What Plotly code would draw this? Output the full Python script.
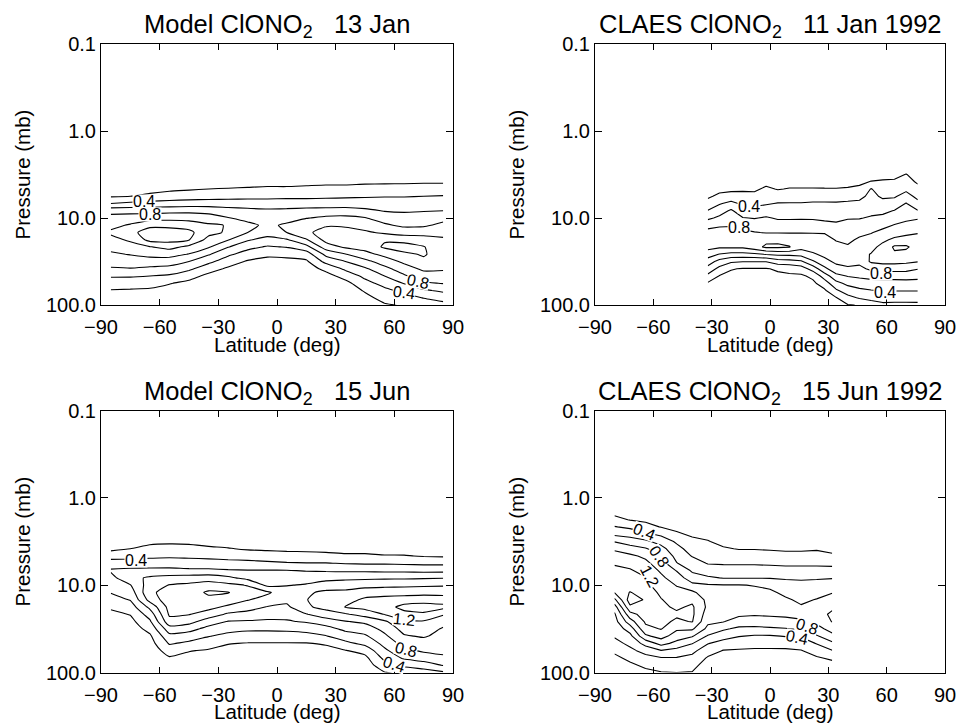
import numpy as np
import plotly.graph_objects as go

FONT = "Liberation Sans, Arial, Helvetica, sans-serif"

# ---------------------------------------------------------------------------
# Grids: latitude (deg) and pressure (mb)
# ---------------------------------------------------------------------------
lat_model = [-85, -75, -65, -55, -45, -35, -25, -15, -5, 5, 15, 25, 35, 45, 55, 65, 75, 85]
lat_claes_jan = [-32, -26, -20, -14, -8, -2, 4, 10, 16, 22, 28, 34, 40, 46, 52, 58, 64, 70, 76]
lat_claes_jun = [-80, -72, -64, -56, -48, -40, -32, -24, -16, -8, 0, 8, 16, 24, 32]

p_model = [2.15, 2.61, 3.16, 3.83, 4.64, 5.62, 6.81, 8.25, 10.0, 12.1, 14.7, 17.8,
           21.5, 26.1, 31.6, 38.3, 46.4, 56.2, 68.1, 82.5, 100.0, 121.0, 147.0]
p_claes_jan = [2.15, 2.61, 3.16, 3.83, 4.64, 5.62, 6.81, 8.25, 10.0, 12.1, 14.7,
               17.8, 21.5, 26.1, 31.6, 38.3, 46.4, 56.2, 68.1, 82.5, 100.0, 121.0]
p_claes_jun = [1.21, 1.47, 1.78, 2.15, 2.61, 3.16, 3.83, 4.64, 5.62, 6.81, 8.25, 10.0,
               12.1, 14.7, 17.8, 21.5, 26.1, 31.6, 38.3, 46.4, 56.2, 68.1, 82.5, 100.0, 121.0]

# ---------------------------------------------------------------------------
# ClONO2 mixing ratio (ppbv); one list per latitude, top (low p) to bottom
# ---------------------------------------------------------------------------
model_jan = [
    [0.02, 0.02, 0.03, 0.06, 0.11, 0.18, 0.40, 0.73, 0.87, 0.95, 1.03, 0.94, 0.86, 0.77, 0.68, 0.58, 0.42, 0.30, 0.19, 0.13, 0.09, 0.06, 0.04],
    [0.02, 0.02, 0.03, 0.06, 0.12, 0.20, 0.44, 0.73, 0.89, 1.02, 1.15, 1.03, 0.92, 0.81, 0.70, 0.59, 0.42, 0.29, 0.18, 0.13, 0.09, 0.06, 0.04],
    [0.02, 0.02, 0.03, 0.07, 0.14, 0.24, 0.47, 0.72, 0.92, 1.16, 1.28, 1.26, 0.99, 0.86, 0.71, 0.56, 0.40, 0.27, 0.17, 0.12, 0.08, 0.05, 0.03],
    [0.02, 0.03, 0.04, 0.08, 0.16, 0.29, 0.48, 0.74, 0.93, 1.15, 1.29, 1.27, 1.06, 0.87, 0.70, 0.53, 0.37, 0.21, 0.14, 0.10, 0.07, 0.04, 0.03],
    [0.02, 0.03, 0.05, 0.10, 0.18, 0.31, 0.49, 0.75, 0.92, 1.12, 1.25, 1.21, 0.95, 0.79, 0.60, 0.44, 0.27, 0.15, 0.10, 0.07, 0.05, 0.03, 0.02],
    [0.02, 0.03, 0.06, 0.12, 0.20, 0.32, 0.50, 0.73, 0.89, 1.03, 1.06, 0.93, 0.82, 0.62, 0.45, 0.28, 0.15, 0.10, 0.07, 0.05, 0.04, 0.03, 0.02],
    [0.02, 0.03, 0.06, 0.12, 0.21, 0.33, 0.50, 0.68, 0.81, 0.99, 0.97, 0.81, 0.61, 0.44, 0.29, 0.17, 0.11, 0.07, 0.05, 0.04, 0.03, 0.02, 0.02],
    [0.02, 0.04, 0.07, 0.13, 0.22, 0.34, 0.50, 0.65, 0.74, 0.85, 0.80, 0.62, 0.46, 0.31, 0.18, 0.12, 0.08, 0.06, 0.04, 0.03, 0.02, 0.02, 0.02],
    [0.02, 0.04, 0.07, 0.14, 0.23, 0.34, 0.50, 0.63, 0.69, 0.76, 0.69, 0.53, 0.38, 0.24, 0.14, 0.09, 0.06, 0.04, 0.03, 0.02, 0.02, 0.02, 0.02],
    [0.02, 0.04, 0.07, 0.14, 0.23, 0.35, 0.50, 0.64, 0.73, 0.83, 0.80, 0.58, 0.41, 0.25, 0.15, 0.10, 0.06, 0.04, 0.03, 0.02, 0.02, 0.02, 0.02],
    [0.02, 0.04, 0.07, 0.15, 0.24, 0.35, 0.50, 0.66, 0.79, 0.99, 0.96, 0.78, 0.53, 0.30, 0.17, 0.11, 0.07, 0.05, 0.03, 0.02, 0.02, 0.02, 0.02],
    [0.02, 0.04, 0.08, 0.16, 0.25, 0.36, 0.50, 0.67, 0.84, 0.98, 1.08, 1.06, 0.90, 0.65, 0.46, 0.25, 0.13, 0.09, 0.06, 0.04, 0.03, 0.02, 0.02],
    [0.02, 0.04, 0.08, 0.16, 0.25, 0.37, 0.50, 0.68, 0.85, 0.97, 1.08, 1.11, 1.03, 0.79, 0.60, 0.44, 0.27, 0.14, 0.09, 0.06, 0.04, 0.03, 0.02],
    [0.03, 0.05, 0.09, 0.17, 0.26, 0.38, 0.50, 0.64, 0.81, 0.92, 1.03, 1.15, 1.07, 0.94, 0.74, 0.57, 0.45, 0.33, 0.22, 0.15, 0.10, 0.07, 0.05],
    [0.03, 0.05, 0.09, 0.17, 0.27, 0.39, 0.49, 0.59, 0.71, 0.83, 0.97, 1.18, 1.23, 1.05, 0.90, 0.74, 0.60, 0.47, 0.35, 0.26, 0.18, 0.13, 0.09],
    [0.03, 0.05, 0.10, 0.17, 0.28, 0.39, 0.49, 0.58, 0.67, 0.76, 0.92, 1.13, 1.29, 1.16, 1.04, 0.91, 0.77, 0.61, 0.45, 0.32, 0.22, 0.15, 0.10],
    [0.03, 0.05, 0.10, 0.18, 0.28, 0.40, 0.49, 0.59, 0.68, 0.77, 0.92, 1.10, 1.21, 1.22, 1.16, 1.04, 0.91, 0.77, 0.57, 0.41, 0.27, 0.17, 0.12],
    [0.03, 0.05, 0.10, 0.18, 0.28, 0.41, 0.50, 0.60, 0.74, 0.85, 0.96, 1.02, 1.07, 1.10, 1.07, 1.02, 0.94, 0.81, 0.64, 0.48, 0.33, 0.19, 0.13],
]

claes_jan = [
    [0.02, 0.03, 0.05, 0.08, 0.12, 0.17, 0.27, 0.41, 0.56, 0.74, 0.86, 0.95, 0.86, 0.70, 0.50, 0.33, 0.15, -0.02, -0.05, -0.06, -0.06, -0.06],
    [0.02, 0.03, 0.06, 0.10, 0.15, 0.24, 0.38, 0.51, 0.64, 0.77, 0.89, 0.96, 0.83, 0.59, 0.33, 0.14, -0.01, -0.04, -0.05, -0.05, -0.05, -0.05],
    [0.02, 0.03, 0.06, 0.10, 0.16, 0.27, 0.46, 0.63, 0.70, 0.78, 0.89, 0.97, 0.83, 0.54, 0.23, 0.01, -0.04, -0.05, -0.05, -0.05, -0.05, -0.05],
    [0.02, 0.03, 0.06, 0.11, 0.17, 0.26, 0.36, 0.47, 0.61, 0.72, 0.85, 0.97, 0.84, 0.54, 0.21, -0.01, -0.04, -0.05, -0.05, -0.05, -0.05, -0.05],
    [0.02, 0.03, 0.06, 0.10, 0.17, 0.25, 0.35, 0.47, 0.59, 0.70, 0.81, 0.91, 0.92, 0.56, 0.21, -0.01, -0.04, -0.05, -0.05, -0.05, -0.05, -0.05],
    [0.02, 0.04, 0.08, 0.15, 0.23, 0.30, 0.38, 0.50, 0.62, 0.71, 0.79, 0.94, 1.04, 0.61, 0.21, -0.01, -0.04, -0.05, -0.05, -0.05, -0.05, -0.05],
    [0.02, 0.03, 0.07, 0.13, 0.19, 0.29, 0.41, 0.49, 0.58, 0.68, 0.79, 0.95, 1.04, 0.65, 0.31, 0.02, -0.03, -0.05, -0.05, -0.05, -0.05, -0.05],
    [0.02, 0.03, 0.07, 0.14, 0.21, 0.30, 0.41, 0.49, 0.58, 0.68, 0.79, 0.92, 1.01, 0.65, 0.33, 0.04, -0.02, -0.05, -0.05, -0.05, -0.05, -0.05],
    [0.02, 0.03, 0.07, 0.14, 0.21, 0.30, 0.41, 0.50, 0.58, 0.69, 0.79, 0.93, 0.87, 0.67, 0.37, 0.10, -0.03, -0.05, -0.05, -0.05, -0.05, -0.05],
    [0.02, 0.03, 0.07, 0.14, 0.21, 0.32, 0.42, 0.50, 0.58, 0.68, 0.79, 0.90, 0.89, 0.77, 0.57, 0.28, 0.04, -0.04, -0.05, -0.05, -0.05, -0.05],
    [0.02, 0.03, 0.07, 0.13, 0.21, 0.32, 0.42, 0.49, 0.56, 0.66, 0.79, 0.86, 0.90, 0.85, 0.74, 0.55, 0.29, 0.10, -0.03, -0.05, -0.05, -0.05],
    [0.02, 0.03, 0.06, 0.12, 0.21, 0.31, 0.42, 0.49, 0.56, 0.63, 0.71, 0.79, 0.85, 0.90, 0.84, 0.73, 0.54, 0.34, 0.17, -0.01, -0.04, -0.05],
    [0.02, 0.03, 0.07, 0.13, 0.22, 0.33, 0.43, 0.51, 0.59, 0.65, 0.70, 0.76, 0.82, 0.89, 0.87, 0.77, 0.61, 0.45, 0.30, 0.14, -0.01, -0.04],
    [0.02, 0.03, 0.08, 0.15, 0.25, 0.35, 0.44, 0.52, 0.59, 0.67, 0.75, 0.83, 0.90, 0.94, 0.85, 0.75, 0.64, 0.50, 0.36, 0.22, 0.01, -0.03],
    [0.02, 0.04, 0.10, 0.21, 0.41, 0.45, 0.50, 0.55, 0.62, 0.71, 0.79, 0.87, 0.94, 1.01, 1.03, 0.84, 0.67, 0.52, 0.39, 0.25, 0.12, 0.05],
    [0.02, 0.05, 0.11, 0.23, 0.30, 0.37, 0.46, 0.55, 0.65, 0.75, 0.85, 0.96, 1.06, 1.15, 1.06, 0.88, 0.67, 0.53, 0.41, 0.28, 0.16, 0.08],
    [0.02, 0.06, 0.12, 0.24, 0.31, 0.38, 0.48, 0.61, 0.70, 0.81, 0.91, 1.04, 1.23, 1.17, 1.06, 0.88, 0.67, 0.53, 0.41, 0.28, 0.15, 0.08],
    [0.02, 0.07, 0.21, 0.28, 0.36, 0.47, 0.61, 0.68, 0.76, 0.85, 0.95, 1.08, 1.23, 1.14, 1.04, 0.87, 0.68, 0.53, 0.41, 0.28, 0.15, 0.08],
    [0.02, 0.04, 0.08, 0.17, 0.26, 0.35, 0.45, 0.61, 0.78, 0.89, 0.99, 1.06, 1.12, 1.07, 1.01, 0.81, 0.66, 0.53, 0.41, 0.27, 0.16, 0.08],
]

model_jun = [
    [0.03, 0.05, 0.10, 0.16, 0.30, 0.52, 0.62, 0.54, 0.47, 0.41, 0.32, 0.23, 0.15, 0.10, 0.07, 0.05, 0.04, 0.03, 0.02, 0.02, 0.02, 0.02, 0.02],
    [0.04, 0.07, 0.13, 0.20, 0.34, 0.49, 0.65, 0.74, 0.59, 0.49, 0.41, 0.30, 0.21, 0.14, 0.10, 0.07, 0.05, 0.04, 0.03, 0.02, 0.02, 0.02, 0.02],
    [0.05, 0.09, 0.16, 0.25, 0.36, 0.49, 0.66, 0.83, 0.90, 0.97, 0.87, 0.65, 0.49, 0.37, 0.26, 0.17, 0.12, 0.08, 0.06, 0.04, 0.03, 0.02, 0.02],
    [0.05, 0.09, 0.17, 0.26, 0.37, 0.50, 0.66, 0.87, 1.01, 1.06, 1.12, 1.07, 1.03, 0.93, 0.71, 0.54, 0.42, 0.29, 0.18, 0.12, 0.08, 0.05, 0.03],
    [0.05, 0.09, 0.16, 0.26, 0.36, 0.49, 0.64, 0.89, 1.04, 1.11, 1.12, 1.08, 1.01, 0.87, 0.67, 0.50, 0.36, 0.21, 0.14, 0.10, 0.07, 0.05, 0.03],
    [0.04, 0.08, 0.14, 0.23, 0.35, 0.48, 0.64, 0.91, 1.09, 1.23, 1.15, 1.06, 0.91, 0.70, 0.54, 0.41, 0.28, 0.18, 0.12, 0.08, 0.06, 0.04, 0.03],
    [0.03, 0.07, 0.13, 0.21, 0.33, 0.47, 0.62, 0.84, 1.05, 1.21, 1.11, 0.96, 0.77, 0.59, 0.47, 0.34, 0.21, 0.14, 0.10, 0.07, 0.05, 0.03, 0.02],
    [0.03, 0.06, 0.11, 0.18, 0.31, 0.46, 0.61, 0.74, 0.99, 1.08, 1.01, 0.88, 0.73, 0.58, 0.44, 0.31, 0.19, 0.13, 0.09, 0.06, 0.04, 0.03, 0.02],
    [0.03, 0.05, 0.10, 0.17, 0.29, 0.44, 0.61, 0.68, 0.76, 1.03, 0.93, 0.79, 0.68, 0.57, 0.44, 0.30, 0.19, 0.13, 0.09, 0.06, 0.04, 0.03, 0.02],
    [0.03, 0.05, 0.10, 0.16, 0.27, 0.42, 0.61, 0.69, 0.79, 0.89, 0.85, 0.76, 0.67, 0.58, 0.45, 0.30, 0.19, 0.13, 0.09, 0.06, 0.04, 0.03, 0.02],
    [0.03, 0.05, 0.10, 0.16, 0.26, 0.41, 0.59, 0.71, 0.82, 0.97, 0.99, 0.97, 0.79, 0.62, 0.47, 0.33, 0.19, 0.13, 0.09, 0.06, 0.04, 0.03, 0.02],
    [0.03, 0.05, 0.09, 0.15, 0.25, 0.41, 0.58, 0.73, 0.90, 1.04, 1.13, 1.06, 0.91, 0.70, 0.53, 0.39, 0.22, 0.14, 0.10, 0.07, 0.05, 0.03, 0.02],
    [0.03, 0.05, 0.09, 0.14, 0.23, 0.39, 0.57, 0.75, 0.92, 1.04, 1.12, 1.21, 0.98, 0.79, 0.65, 0.50, 0.35, 0.19, 0.13, 0.09, 0.06, 0.04, 0.03],
    [0.03, 0.05, 0.09, 0.14, 0.23, 0.38, 0.57, 0.76, 0.94, 1.10, 1.24, 1.26, 1.08, 0.84, 0.70, 0.57, 0.45, 0.27, 0.15, 0.10, 0.07, 0.05, 0.03],
    [0.03, 0.05, 0.09, 0.14, 0.21, 0.38, 0.56, 0.77, 0.95, 1.12, 1.27, 1.32, 1.21, 0.97, 0.86, 0.76, 0.66, 0.56, 0.45, 0.32, 0.19, 0.13, 0.09],
    [0.03, 0.05, 0.08, 0.13, 0.21, 0.37, 0.56, 0.77, 0.96, 1.12, 1.30, 1.46, 1.34, 1.17, 1.07, 0.98, 0.87, 0.75, 0.63, 0.44, 0.25, 0.15, 0.10],
    [0.03, 0.05, 0.08, 0.13, 0.19, 0.36, 0.55, 0.78, 0.97, 1.13, 1.32, 1.49, 1.37, 1.18, 1.10, 1.02, 0.92, 0.83, 0.69, 0.51, 0.30, 0.16, 0.10],
    [0.03, 0.05, 0.08, 0.12, 0.18, 0.36, 0.55, 0.79, 0.98, 1.13, 1.30, 1.46, 1.22, 1.08, 0.98, 0.94, 0.89, 0.84, 0.77, 0.61, 0.37, 0.20, 0.13],
]

claes_jun = [
    [0.09, 0.15, 0.26, 0.41, 0.56, 0.79, 0.97, 1.08, 1.18, 1.25, 1.33, 1.29, 1.21, 0.95, 0.70, 0.57, 0.52, 0.47, 0.42, 0.33, 0.24, 0.15, 0.08, 0.03, 0.01],
    [0.06, 0.12, 0.19, 0.36, 0.53, 0.70, 0.89, 1.04, 1.14, 1.22, 1.26, 1.31, 1.41, 1.50, 1.36, 1.13, 0.91, 0.69, 0.54, 0.45, 0.35, 0.25, 0.16, 0.09, 0.04],
    [0.04, 0.09, 0.16, 0.27, 0.44, 0.64, 0.82, 0.96, 1.05, 1.13, 1.21, 1.25, 1.31, 1.38, 1.34, 1.29, 1.23, 1.15, 0.96, 0.67, 0.47, 0.34, 0.24, 0.15, 0.08],
    [0.03, 0.07, 0.12, 0.19, 0.36, 0.52, 0.67, 0.81, 0.89, 0.97, 1.04, 1.10, 1.16, 1.21, 1.24, 1.27, 1.25, 1.21, 1.08, 0.87, 0.59, 0.39, 0.29, 0.19, 0.10],
    [0.02, 0.05, 0.10, 0.15, 0.23, 0.37, 0.46, 0.53, 0.61, 0.79, 0.90, 0.99, 1.06, 1.12, 1.17, 1.23, 1.17, 1.03, 0.90, 0.74, 0.53, 0.39, 0.29, 0.20, 0.12],
    [0.02, 0.04, 0.08, 0.12, 0.17, 0.25, 0.32, 0.39, 0.48, 0.57, 0.69, 0.85, 1.04, 1.16, 1.23, 1.24, 1.21, 1.03, 0.82, 0.61, 0.45, 0.35, 0.27, 0.19, 0.12],
    [0.02, 0.04, 0.07, 0.10, 0.15, 0.21, 0.27, 0.33, 0.39, 0.50, 0.63, 0.82, 0.88, 0.95, 0.96, 0.90, 0.84, 0.75, 0.58, 0.41, 0.29, 0.18, 0.10, 0.05, 0.02],
    [0.02, 0.03, 0.05, 0.07, 0.10, 0.15, 0.22, 0.30, 0.38, 0.49, 0.59, 0.81, 0.88, 0.94, 0.94, 0.88, 0.81, 0.63, 0.47, 0.33, 0.19, 0.12, 0.07, 0.04, 0.02],
    [0.02, 0.03, 0.04, 0.06, 0.09, 0.13, 0.19, 0.29, 0.38, 0.48, 0.59, 0.81, 0.87, 0.93, 0.91, 0.84, 0.71, 0.56, 0.41, 0.28, 0.18, 0.12, 0.07, 0.04, 0.02],
    [0.02, 0.03, 0.04, 0.06, 0.09, 0.13, 0.19, 0.28, 0.38, 0.48, 0.59, 0.79, 0.86, 0.93, 0.89, 0.82, 0.71, 0.55, 0.38, 0.27, 0.17, 0.11, 0.07, 0.04, 0.02],
    [0.02, 0.03, 0.04, 0.06, 0.09, 0.13, 0.18, 0.28, 0.37, 0.48, 0.59, 0.75, 0.84, 0.91, 0.89, 0.83, 0.72, 0.57, 0.38, 0.27, 0.17, 0.11, 0.07, 0.04, 0.02],
    [0.02, 0.03, 0.04, 0.05, 0.08, 0.12, 0.17, 0.26, 0.36, 0.47, 0.58, 0.67, 0.75, 0.83, 0.90, 0.84, 0.74, 0.59, 0.41, 0.28, 0.17, 0.11, 0.07, 0.04, 0.02],
    [0.02, 0.03, 0.04, 0.05, 0.08, 0.12, 0.17, 0.26, 0.36, 0.47, 0.58, 0.64, 0.70, 0.76, 0.82, 0.86, 0.77, 0.63, 0.42, 0.30, 0.19, 0.12, 0.08, 0.05, 0.02],
    [0.02, 0.03, 0.04, 0.05, 0.08, 0.12, 0.18, 0.27, 0.36, 0.47, 0.58, 0.67, 0.73, 0.81, 0.86, 0.91, 0.84, 0.73, 0.58, 0.41, 0.28, 0.18, 0.11, 0.06, 0.03],
    [0.02, 0.03, 0.04, 0.05, 0.07, 0.10, 0.15, 0.23, 0.35, 0.47, 0.59, 0.69, 0.79, 0.88, 0.96, 1.04, 1.01, 0.88, 0.74, 0.56, 0.39, 0.23, 0.14, 0.08, 0.04],
]

# panel titles
titles = [
    "Model ClONO<sub>2</sub>\u00a0\u00a0\u00a013 Jan",
    "CLAES ClONO<sub>2</sub>\u00a0\u00a0\u00a011 Jan 1992",
    "Model ClONO<sub>2</sub>\u00a0\u00a0\u00a015 Jun",
    "CLAES ClONO<sub>2</sub>\u00a0\u00a0\u00a015 Jun 1992",
]

# in-line contour labels: (panel, text, latitude, pressure, angle)
contour_labels = [
    (1, "0.4", -68, 6.5, 0), (1, "0.8", -65, 9.0, 0),
    (1, "0.8", 72, 53.0, 12), (1, "0.4", 65, 72.0, 8),
    (2, "0.4", -11, 7.4, 0), (2, "0.8", -16, 13.0, 0),
    (2, "0.8", 57, 44.0, 0), (2, "0.4", 59, 71.0, 0),
    (3, "0.4", -72, 5.2, 0), (3, "1.2", 65, 25.0, 6),
    (3, "0.8", 66, 54.0, 14), (3, "0.4", 60, 81.0, 18),
    (4, "0.4", -65, 2.45, 22), (4, "0.8", -57, 4.7, 55), (4, "1.2", -62, 8.0, 62),
    (4, "0.8", 19, 29.5, 18), (4, "0.4", 14, 39.5, 12),
]

x_ticks = [-90, -60, -30, 0, 30, 60, 90]
p_ticks = [0.1, 1, 10, 100]
p_ticktext = ["0.1", "1.0", "10.0", "100.0"]
p_minor = [0.2, 0.3, 0.4, 0.5, 0.6, 0.7, 0.8, 0.9,
           2, 3, 4, 5, 6, 7, 8, 9,
           20, 30, 40, 50, 60, 70, 80, 90]

# ---------------------------------------------------------------------------
W, H = 956, 725
panel_px = {  # left, right, top, bottom in pixels
    1: (101, 453, 44, 305),
    2: (595, 945, 44, 305),
    3: (101, 453, 410.5, 672.5),
    4: (595, 945, 410.5, 672.5),
}


def px_x(v):
    return v / W


def px_y(v):
    return 1 - v / H


fig = go.Figure()

panels = [
    (1, lat_model, p_model, model_jan, 0.2, 0.5),
    (2, lat_claes_jan, p_claes_jan, claes_jan, 0.0, 0.0),
    (3, lat_model, p_model, model_jun, 0.2, 0.5),
    (4, lat_claes_jun, p_claes_jun, claes_jun, 0.0, 0.0),
]

axis_font = dict(family=FONT, size=20, color="black")
frame = dict(showline=True, linecolor="black", linewidth=1, mirror="ticks",
             showgrid=False, zeroline=False, automargin=False)

for idx, lat, pres, cols, start, smooth in panels:
    sfx = "" if idx == 1 else str(idx)
    fig.add_trace(go.Contour(
        x=lat, y=pres, z=np.array(cols).T,
        xaxis="x" + sfx, yaxis="y" + sfx,
        contours=dict(coloring="lines", start=start, end=1.6, size=0.2, showlabels=False),
        line=dict(width=1.1, smoothing=smooth),
        colorscale=[[0, "black"], [1, "black"]],
        showscale=False, hoverinfo="skip",
    ))

    l, r, t, b = panel_px[idx]
    fig.layout["xaxis" + sfx] = dict(
        domain=[px_x(l), px_x(r)], anchor="y" + sfx, range=[-90, 90],
        tickmode="array", tickvals=x_ticks, ticks="inside", ticklen=6, tickwidth=1,
        tickcolor="black", tickfont=axis_font, ticklabeloverflow="allow",
        ticklabelstandoff=4, **frame,
    )
    fig.layout["yaxis" + sfx] = dict(
        domain=[px_y(b), px_y(t)], anchor="x" + sfx, type="log", range=[2, -1],
        tickmode="array", tickvals=p_ticks, ticktext=p_ticktext, ticks="inside",
        ticklen=7, tickwidth=1, tickcolor="black", tickfont=axis_font,
        ticklabeloverflow="allow", **frame,
    )
    # companion axis carrying the minor log ticks
    fig.layout["yaxis" + str(idx + 4)] = dict(
        domain=[px_y(b), px_y(t)], anchor="x" + sfx, overlaying="y" + sfx,
        side="left", type="log", range=[2, -1],
        tickmode="array", tickvals=p_minor, ticks="inside", ticklen=4, tickwidth=1,
        tickcolor="black", showticklabels=False, **frame,
    )

    cx = (l + r) / 2
    cy = (t + b) / 2
    fig.add_annotation(text=titles[idx - 1], xref="paper", yref="paper",
                       x=px_x(cx), y=px_y(t - 18), xanchor="center", yanchor="middle",
                       showarrow=False, font=dict(family=FONT, size=25.5, color="black"))
    fig.add_annotation(text="Latitude (deg)", xref="paper", yref="paper",
                       x=px_x(cx), y=px_y(b + 39), xanchor="center", yanchor="middle",
                       showarrow=False, font=dict(family=FONT, size=20.5, color="black"))
    fig.add_annotation(text="Pressure (mb)", xref="paper", yref="paper",
                       x=px_x(l - 79), y=px_y(cy), xanchor="center", yanchor="middle",
                       textangle=-90, showarrow=False,
                       font=dict(family=FONT, size=20.5, color="black"))

for idx, txt, la, pr, ang in contour_labels:
    sfx = "" if idx == 1 else str(idx)
    fig.add_annotation(text=txt, xref="x" + sfx, yref="y" + sfx,
                       x=la, y=float(np.log10(pr)), showarrow=False, textangle=ang,
                       bgcolor="white", borderpad=0, height=13,
                       font=dict(family=FONT, size=16, color="black"))

fig.update_layout(
    template="none",
    width=W, height=H, autosize=False,
    margin=dict(l=0, r=0, t=0, b=0, pad=0, autoexpand=False),
    paper_bgcolor="white", plot_bgcolor="white",
    showlegend=False,
)

fig.write_html("out.html")
